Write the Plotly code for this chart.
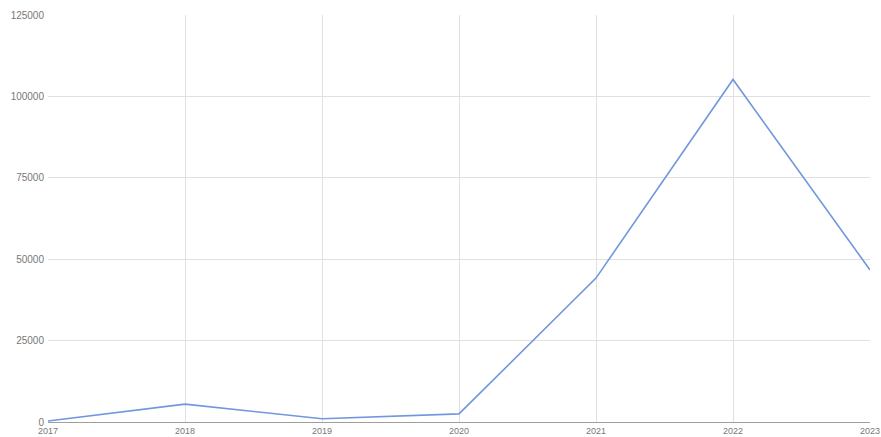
import plotly.graph_objects as go

years = ["2017", "2018", "2019", "2020", "2021", "2022", "2023"]
values = [300, 5500, 1000, 2500, 44200, 105200, 46700]
y_ticks = [0, 25000, 50000, 75000, 100000, 125000]

fig = go.Figure()
fig.add_trace(go.Scatter(
    x=list(range(len(years))), y=values, mode="lines",
    line=dict(color="#7197de", width=1.6),
    hoverinfo="x+y"
))
fig.update_layout(
    width=881, height=437,
    margin=dict(l=48, r=11, t=15, b=15),
    paper_bgcolor="white", plot_bgcolor="white",
    showlegend=False,
    font=dict(family="Liberation Sans, Arial, sans-serif", size=10, color="#777777"),
    xaxis=dict(
        range=[0, len(years) - 1], automargin=False,
        tickmode="array", tickvals=list(range(len(years))), ticktext=years,
        showgrid=True, gridcolor="#e0e0e0", gridwidth=1,
        zeroline=False, showline=True, linecolor="#9e9e9e", linewidth=1,
        ticks="", ticklen=0, tickfont=dict(size=9, color="#777777"),
    ),
    yaxis=dict(
        range=[0, 125000], automargin=False,
        tickmode="array", tickvals=y_ticks, ticktext=[str(t) for t in y_ticks],
        showgrid=True, gridcolor="#e0e0e0", gridwidth=1,
        zeroline=False, showline=False,
        ticks="", ticklabelstandoff=3, tickfont=dict(size=10, color="#777777"),
    ),
)
fig.write_html("out.html", config={"displayModeBar": False},
               post_script="document.body.style.margin='0';document.body.style.overflow='hidden';")
